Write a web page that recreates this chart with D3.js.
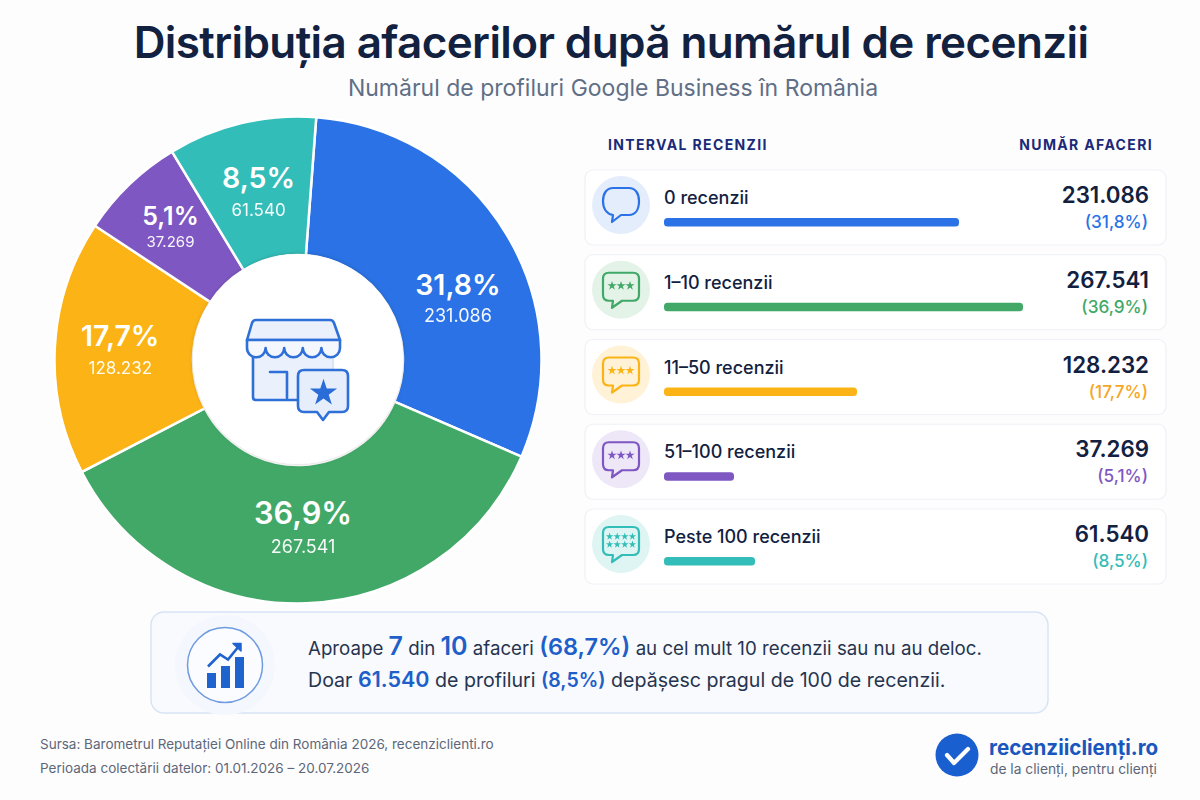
<!DOCTYPE html>
<html lang="ro">
<head>
<meta charset="utf-8">
<title>Distribuția afacerilor după numărul de recenzii</title>
<script src="https://cdn.jsdelivr.net/npm/d3@7"></script>
<style>
  html, body { margin: 0; padding: 0; background: #fdfdfe; }
  svg { display: block; }
  text { font-family: Inter, "Noto Sans", sans-serif; }
</style>
</head>
<body>
<svg id="chart" width="1200" height="800"></svg>
<script>
// printed values
const categories = ["0 recenzii", "1–10 recenzii", "11–50 recenzii", "51–100 recenzii", "Peste 100 recenzii"];
const counts = [231086, 267541, 128232, 37269, 61540];
const percents = [31.8, 36.9, 17.7, 5.1, 8.5];
// the reference does not draw its slices and bars to scale, so these are read off the marks
const sliceShares = [30.3, 35.9, 16.9, 7.05, 9.85];
const barLevels = [219850, 267541, 143830, 52170, 67820];
const colors = ["#2a72e5", "#41a867", "#fcb316", "#7e57c2", "#33bdb8"];
const tints = ["#e4edfb", "#e3f3e8", "#fff2d6", "#eee7f8", "#dff5f3"];
const pctColors = ["#2a72e5", "#41a867", "#f5a623", "#7e57c2", "#33bdb8"];
const starCounts = [0, 3, 3, 3, 8];
const sourceLines = ["Sursa: Barometrul Reputației Online din România 2026, recenziclienti.ro",
  "Perioada colectării datelor: 01.01.2026 – 20.07.2026"];

const navy = "#12213f";
const ro = d3.formatLocale({decimal: ",", thousands: ".", grouping: [3], currency: ["", " lei"]});
const fmtCount = ro.format(",d");
const fmtPct = ro.format(".1f");

const svg = d3.select("#chart");
const defs = svg.append("defs");
const shadow = defs.append("filter").attr("id", "soft").attr("x", "-20%").attr("y", "-20%").attr("width", "140%").attr("height", "140%");
shadow.append("feDropShadow").attr("dx", 0).attr("dy", 0).attr("stdDeviation", 2).attr("flood-color", "#000").attr("flood-opacity", 0.22);

svg.append("rect").attr("width", 1200).attr("height", 800).attr("fill", "#fdfdfe");

// title
svg.append("text").attr("x", 611).attr("y", 58).attr("text-anchor", "middle")
  .attr("font-size", 44).attr("font-weight", 600).attr("fill", navy).attr("letter-spacing", -0.6)
  .text("Distribuția afacerilor după numărul de recenzii");
svg.append("text").attr("x", 613).attr("y", 96).attr("text-anchor", "middle")
  .attr("font-size", 23).attr("fill", "#5f6f86")
  .text("Numărul de profiluri Google Business în România");

// donut
const cx = 298, cy = 360, outerR = 243.5, innerR = 105;
const startA = 4.3 * Math.PI / 180;
const pie = d3.pie().sort(null).startAngle(startA).endAngle(startA + 2 * Math.PI);
const arcs = pie(sliceShares);
const arc = d3.arc().innerRadius(innerR).outerRadius(outerR);
const labelArc = d3.arc().innerRadius(174).outerRadius(174);

const donut = svg.append("g").attr("transform", `translate(${cx},${cy})`);
donut.selectAll("path.slice").data(arcs).join("path").attr("class", "slice")
  .attr("d", arc).attr("fill", (d, i) => colors[i])
  .attr("stroke", "#fff").attr("stroke-width", 2.5);
donut.append("circle").attr("cy", -1).attr("r", innerR).attr("fill", "#fff").attr("filter", "url(#soft)");

// nudges from each slice centroid, pct size, count size
const labelLayout = [
  {dx: 11, dy: 25, big: 28.5, small: 18, gap: 27},
  {dx: -1, dy: -10, big: 30.7, small: 18, gap: 29},
  {dx: -4, dy: -5, big: 28.5, small: 17, gap: 28},
  {dx: -7, dy: -10, big: 25, small: 15, gap: 22},
  {dx: 1, dy: -3, big: 28.5, small: 17, gap: 28}
];
const sliceLabels = donut.selectAll("g.lbl").data(arcs).join("g").attr("class", "lbl")
  .attr("transform", (d, i) => {
    const c = labelArc.centroid(d), l = labelLayout[i];
    return `translate(${c[0] + l.dx},${c[1] + l.dy})`;
  })
  .attr("text-anchor", "middle").attr("fill", "#fff");
sliceLabels.append("text").attr("font-size", (d, i) => labelLayout[i].big).attr("font-weight", 600)
  .text((d, i) => fmtPct(percents[i]) + "%");
sliceLabels.append("text").attr("y", (d, i) => labelLayout[i].gap).attr("font-size", (d, i) => labelLayout[i].small)
  .attr("opacity", 0.95).text((d, i) => fmtCount(counts[i]));

// store icon in the donut hole
const store = svg.append("g").attr("transform", "translate(190,270)")
  .attr("fill", "none").attr("stroke", "#2f6fd8").attr("stroke-width", 2.6).attr("stroke-linejoin", "round").attr("stroke-linecap", "round");
store.append("path").attr("fill", "#eaf1fc").attr("stroke", "#cfe0f7").attr("stroke-width", 1.5).attr("d", "M63 80 V130 H143 V80 Z");
store.append("path").attr("d", "M63 85 V127 Q63 130 66 130 H110");
store.append("path").attr("fill", "#eaf1fc").attr("d", "M66 50 H140 Q143 50 144 53 L150 70 H57 L62 53 Q63 50 66 50 Z");
store.append("path").attr("fill", "#f4f8fe").attr("d", "M57 70 H150 V78 A9.3 9.3 0 0 1 131.4 78 A9.3 9.3 0 0 1 112.8 78 A9.3 9.3 0 0 1 94.2 78 A9.3 9.3 0 0 1 75.6 78 A9.3 9.3 0 0 1 57 78 Z");
store.append("path").attr("d", "M80 102 H97 V128");
store.append("path").attr("fill", "#e6eefb").attr("d", "M114 100 H152 Q158 100 158 106 V136 Q158 142 152 142 H139 L133 150 L127 142 H114 Q108 142 108 136 V106 Q108 100 114 100 Z");
store.append("path").attr("transform", "translate(133.5,123)").attr("fill", "#2a6dd9").attr("stroke", "none")
  .attr("d", d3.symbol(d3.symbolStar, 230)());

// table headers
svg.append("text").attr("x", 608).attr("y", 150).attr("font-size", 14).attr("font-weight", 700)
  .attr("fill", "#1a2a78").attr("letter-spacing", 1.35).text("INTERVAL RECENZII");
svg.append("text").attr("x", 1153).attr("y", 150).attr("text-anchor", "end").attr("font-size", 14).attr("font-weight", 700)
  .attr("fill", "#1a2a78").attr("letter-spacing", 1.35).text("NUMĂR AFACERI");

// table rows
const rowY = d3.scalePoint().domain(categories).range([170, 509]);
const barX = d3.scaleLinear().domain([0, d3.max(barLevels)]).range([0, 359]);
const rows = svg.selectAll("g.row").data(categories).join("g").attr("class", "row")
  .attr("transform", d => `translate(585,${rowY(d)})`);
rows.append("rect").attr("width", 581).attr("height", 75).attr("rx", 8)
  .attr("fill", "#fff").attr("stroke", "#eef1f5").attr("stroke-width", 1.2);
rows.append("circle").attr("cx", 36).attr("cy", 35).attr("r", 29).attr("fill", (d, i) => tints[i]);

const bubble = "M-12 -17 H12 Q18 -17 18 -11 V5 Q18 11 12 11 H1 L-9 18 L-8 11 H-12 Q-18 11 -18 5 V-11 Q-18 -17 -12 -17 Z";
const round = "M-8 -17 H8 C14 -17 18 -12 18 -4 C18 5 14 10 8 10 H0 L-9 17 L-8 10 C-14 9 -18 4 -18 -4 C-18 -12 -14 -17 -8 -17 Z";
rows.each(function(d, i) {
  const g = d3.select(this).append("g").attr("transform", "translate(36,35)");
  g.append("path").attr("d", i === 0 ? round : bubble).attr("fill", "none")
    .attr("stroke", colors[i]).attr("stroke-width", 2.2).attr("stroke-linejoin", "round");
  const n = starCounts[i];
  const perRow = n > 4 ? 4 : n;
  d3.range(n).forEach(k => {
    const col = k % perRow, line = Math.floor(k / perRow);
    const sx = (col - (perRow - 1) / 2) * (n > 4 ? 7.6 : 9);
    const sy = n > 4 ? -7.5 + line * 8 : -4;
    g.append("path").attr("transform", `translate(${sx},${sy})`).attr("fill", colors[i])
      .attr("d", d3.symbol(d3.symbolStar, n > 4 ? 17 : 26)());
  });
});

rows.append("text").attr("x", 79).attr("y", 34).attr("font-size", 18).attr("font-weight", 500).attr("fill", navy).text(d => d);
rows.append("rect").attr("x", 79).attr("y", 48).attr("height", 8.5).attr("rx", 3.5)
  .attr("width", (d, i) => barX(barLevels[i])).attr("fill", (d, i) => colors[i]);
rows.append("text").attr("x", 564).attr("y", 33).attr("text-anchor", "end").attr("font-size", 22.3).attr("font-weight", 600)
  .attr("fill", navy).text((d, i) => fmtCount(counts[i]));
rows.append("text").attr("x", 563).attr("y", 58).attr("text-anchor", "end").attr("font-size", 17.2).attr("font-weight", 500)
  .attr("fill", (d, i) => pctColors[i]).text((d, i) => "(" + fmtPct(percents[i]) + "%)");

// callout
svg.append("rect").attr("x", 151).attr("y", 612).attr("width", 897).attr("height", 101).attr("rx", 13)
  .attr("fill", "#f8fafe").attr("stroke", "#d7e3f5").attr("stroke-width", 1.4);
svg.append("circle").attr("cx", 225).attr("cy", 665).attr("r", 50).attr("fill", "#f4f7fd");
svg.append("circle").attr("cx", 225).attr("cy", 665).attr("r", 37.5).attr("fill", "#fbfcff").attr("stroke", "#6f9be0").attr("stroke-width", 1.5);
const trend = svg.append("g").attr("transform", "translate(150,605)").attr("fill", "#1f63cf");
trend.append("rect").attr("x", 57).attr("y", 68).attr("width", 9).attr("height", 15);
trend.append("rect").attr("x", 71).attr("y", 61).attr("width", 9).attr("height", 22);
trend.append("rect").attr("x", 85).attr("y", 52).attr("width", 9).attr("height", 31);
trend.append("path").attr("fill", "none").attr("stroke", "#1f63cf").attr("stroke-width", 2.6).attr("d", "M58 61.5 L70 49.5 L78 54.5 L89 41");
trend.append("path").attr("d", "M83 38.5 L91 38.5 L91 46 Z").attr("stroke", "#1f63cf").attr("stroke-width", 1.5).attr("stroke-linejoin", "round");

// one array per line: [text, emphasis size or 0]
const calloutLines = [
  [["Aproape ", 0], ["7", 25], [" din ", 0], ["10", 25], [" afaceri ", 0], ["(68,7%)", 23.5], [" au cel mult 10 recenzii sau nu au deloc.", 0]],
  [["Doar ", 0], ["61.540", 21.5], [" de profiluri ", 0], ["(8,5%)", 19.5], [" depășesc pragul de 100 de recenzii.", 0]]
];
const calloutSizes = [18.7, 19.6];
svg.selectAll("text.callout").data(calloutLines).join("text").attr("class", "callout")
  .attr("x", 308).attr("y", (d, i) => i === 0 ? 655 : 687)
  .attr("font-size", (d, i) => calloutSizes[i]).attr("fill", "#26344f")
  .selectAll("tspan").data(d => d).join("tspan")
  .attr("font-size", d => d[1] || null)
  .attr("font-weight", d => d[1] ? 600 : 400)
  .attr("fill", d => d[1] ? "#1f5fc9" : null)
  .attr("xml:space", "preserve").style("white-space", "pre")
  .text(d => d[0]);

// source
svg.selectAll("text.src").data(sourceLines).join("text").attr("class", "src")
  .attr("x", 40).attr("y", (d, i) => 749 + i * 24).attr("font-size", 13.5).attr("fill", "#5d6778").text(d => d);

// logo
svg.append("circle").attr("cx", 957).attr("cy", 755).attr("r", 21.5).attr("fill", "#1a5fd0");
svg.append("path").attr("d", "M947 755 L954 763 L968 749").attr("fill", "none").attr("stroke", "#fff")
  .attr("stroke-width", 4.2).attr("stroke-linecap", "round").attr("stroke-linejoin", "round");
svg.append("text").attr("x", 989).attr("y", 755).attr("font-size", 20.6).attr("font-weight", 700).attr("fill", "#1a57bd").text("recenziiclienți.ro");
svg.append("text").attr("x", 990).attr("y", 774).attr("font-size", 13.8).attr("fill", "#5b6678").text("de la clienți, pentru clienți");
</script>
</body>
</html>
